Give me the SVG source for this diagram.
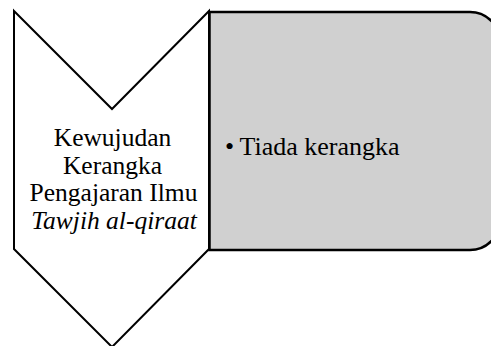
<svg xmlns="http://www.w3.org/2000/svg" width="491" height="346" viewBox="0 0 491 346">
<rect width="491" height="346" fill="#fff"/>
<g id="chevron">
<path d="M14,11 L112,109 L209,11 L209,249 L112,347 L14,249 Z" fill="#fff" stroke="#000" stroke-width="2" stroke-linejoin="miter"/>
<g font-family="Liberation Serif, serif" font-size="25.5" fill="#000" text-anchor="middle">
<text x="112.5" y="146">Kewujudan</text>
<text x="112.5" y="173.5">Kerangka</text>
<text x="113.5" y="201">Pengajaran Ilmu</text>
<text x="114" y="228.5" font-style="italic">Tawjih al-qiraat</text>
</g>
</g>
<g id="box">
<path d="M209.5,12 H470 A30,30 0 0 1 500,42 V220 A30,30 0 0 1 470,250 H209.5 Z" fill="#d0d0d0" stroke="#000" stroke-width="2.5"/>
<g font-family="Liberation Serif, serif" font-size="26" fill="#000">
<text x="225" y="155">•</text>
<text x="239.5" y="155">Tiada kerangka</text>
</g>
</g>
<g id="connectors"/>
</svg>
